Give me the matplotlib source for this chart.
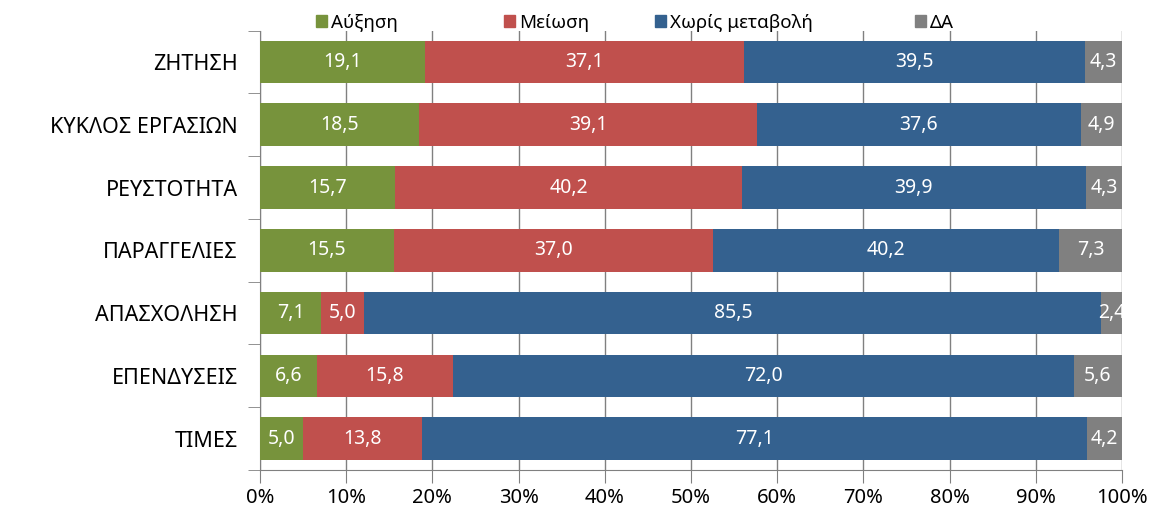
import matplotlib
matplotlib.use("Agg")
import matplotlib.pyplot as plt
from matplotlib.patches import Patch
import numpy as np

plt.rcParams['font.family'] = ['Noto Sans', 'DejaVu Sans']

categories = ["ΖΗΤΗΣΗ", "ΚΥΚΛΟΣ ΕΡΓΑΣΙΩΝ", "ΡΕΥΣΤΟΤΗΤΑ", "ΠΑΡΑΓΓΕΛΙΕΣ",
              "ΑΠΑΣΧΟΛΗΣΗ", "ΕΠΕΝΔΥΣΕΙΣ", "ΤΙΜΕΣ"]
series_names = ["Αύξηση", "Μείωση", "Χωρίς μεταβολή", "ΔΑ"]
increase = [19.1, 18.5, 15.7, 15.5, 7.1, 6.6, 5.0]
decrease = [37.1, 39.1, 40.2, 37.0, 5.0, 15.8, 13.8]
no_change = [39.5, 37.6, 39.9, 40.2, 85.5, 72.0, 77.1]
dk = [4.3, 4.9, 4.3, 7.3, 2.4, 5.6, 4.2]
colors = ["#77933C", "#C0504D", "#34618F", "#808080"]
xticks = [0, 10, 20, 30, 40, 50, 60, 70, 80, 90, 100]

fig = plt.figure(figsize=(11.54, 5.13), dpi=100)
ax = fig.add_axes([0.2253, 0.0838, 0.7470, 0.8564])

y = np.arange(len(categories))
left = np.zeros(len(categories))
for name, vals, c in zip(series_names, [increase, decrease, no_change, dk], colors):
    vals = np.array(vals)
    ax.barh(y, vals, left=left, height=0.68, color=c, label=name, zorder=3)
    for yi, l, v in zip(y, left, vals):
        ax.text(l + v / 2, yi, f"{v:.1f}".replace('.', ','), ha='center', va='center',
                color='white', fontsize=14, zorder=4, clip_on=True)
    left = left + vals

ax.set_xlim(0, 100)
ax.set_ylim(len(categories) - 0.5, -0.5)
ax.set_yticks(y)
ax.set_yticklabels(categories, fontsize=15.5)
ax.set_yticks(np.arange(-0.5, len(categories), 1), minor=True)
ax.tick_params(axis='y', which='major', length=0, pad=16)
ax.tick_params(axis='y', which='minor', length=9, color='#808080')
ax.set_xticks(xticks)
ax.set_xticklabels([f"{t}%" for t in xticks], fontsize=14.5)
ax.tick_params(axis='x', length=9, color='#808080', pad=4)
ax.grid(axis='x', color='#808080', linewidth=1, zorder=0)
for s in ['top', 'right']:
    ax.spines[s].set_visible(False)
for s in ['left', 'bottom']:
    ax.spines[s].set_color('#808080')

legend_x = [316, 504, 655, 915]
for name, c, lx in zip(series_names, colors, legend_x):
    fig.legend(handles=[Patch(color=c, label=name)], loc='center left',
               bbox_to_anchor=(lx / 1154, 1 - 23 / 513), frameon=False,
               fontsize=13.5, handlelength=0.6, handleheight=0.6, handletextpad=0.2,
               borderpad=0, borderaxespad=0)

fig.savefig("out.png", dpi=100)
